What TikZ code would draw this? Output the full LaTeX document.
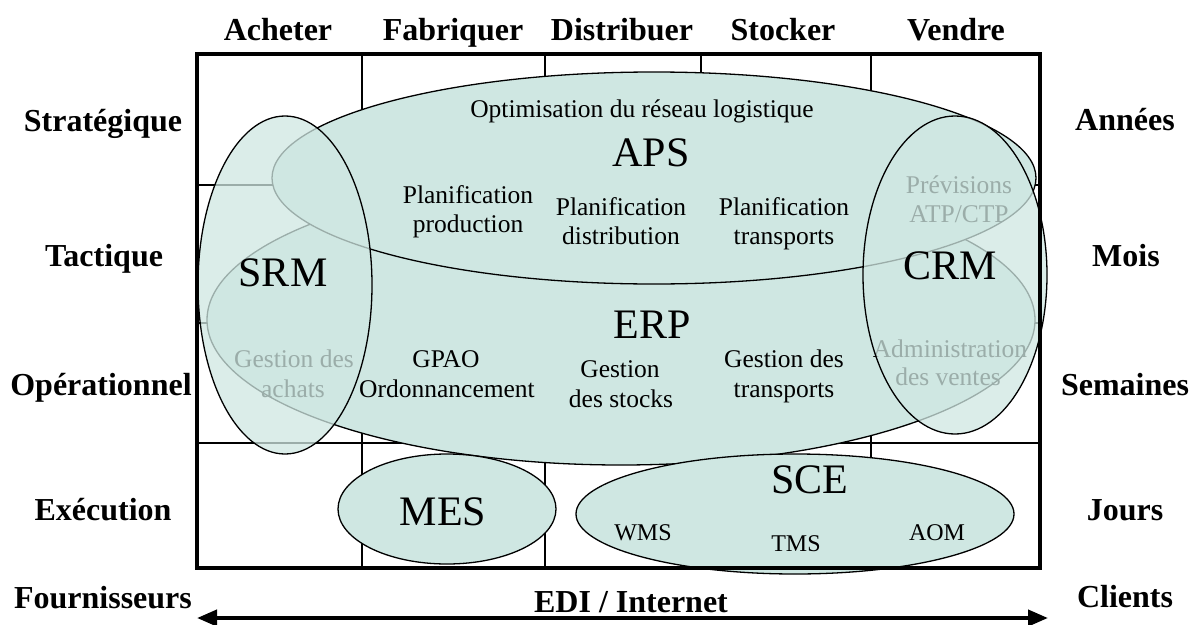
\documentclass[tikz,border=0pt]{standalone}
\usepackage{fontspec}
\setmainfont{Liberation Serif}
\usetikzlibrary{shapes.geometric,arrows.meta}
\definecolor{tealfill}{RGB}{207,231,226}
\begin{document}
\begin{tikzpicture}[x=1pt,y=-1pt,
  gridline/.style={line width=1.6pt},
  oval/.style={ellipse, draw, line width=1.3pt, fill=tealfill, inner sep=0pt},
  veil/.style={ellipse, draw, line width=1.3pt, fill=tealfill, fill opacity=0.75, inner sep=0pt},
  lbl/.style={font=\fontsize{32}{38}\selectfont\bfseries, anchor=base, inner sep=0pt},
  txt/.style={font=\fontsize{25.5}{30}\selectfont, anchor=base, inner sep=0pt},
  big/.style={font=\fontsize{42}{48}\selectfont, anchor=base, inner sep=0pt},
  sm/.style={font=\fontsize{24}{28}\selectfont, anchor=base, inner sep=0pt}]
\useasboundingbox (0,0) rectangle (1197,624);

% grid
\foreach \x in {362,545,701,871} \draw[gridline] (\x,54) -- (\x,568);
\foreach \y in {185,323,443} \draw[gridline] (197,\y) -- (1040,\y);

% opaque ellipses
\node[oval, minimum width=828pt, minimum height=290pt] (erp) at (621,320) {};
\node[oval, minimum width=764pt, minimum height=212pt] (aps) at (654,178) {};
\node[oval, minimum width=218pt, minimum height=110pt] (mes) at (447,509) {};
\node[oval, minimum width=438pt, minimum height=120pt] (sce) at (795,514) {};

% inner texts
\node[txt] (opt) at (642,117) {Optimisation du réseau logistique};
\node[big] (apsl) at (651,166) {APS};
\node[txt] (pp1) at (468,203) {Planification};
\node[txt] (pp2) at (468,232) {production};
\node[txt] (pd1) at (621,215) {Planification};
\node[txt] (pd2) at (621,244) {distribution};
\node[txt] (pt1) at (784,215) {Planification};
\node[txt] (pt2) at (784,244) {transports};
\node[txt] (pv1) at (959,193) {Prévisions};
\node[txt] (pv2) at (959,222) {ATP/CTP};
\node[big] (erpl) at (652,338) {ERP};
\node[txt] (ga1) at (294,367) {Gestion des};
\node[txt] (ga2) at (293,397) {achats};
\node[txt] (gp1) at (446,367) {GPAO};
\node[txt] (gp2) at (447,397) {Ordonnancement};
\node[txt] (gs1) at (620,377) {Gestion};
\node[txt] (gs2) at (621,407) {des stocks};
\node[txt] (gt1) at (784,367) {Gestion des};
\node[txt] (gt2) at (784,397) {transports};
\node[txt] (av1) at (950,357) {Administration};
\node[txt] (av2) at (948,385) {des ventes};
\node[big] (mesl) at (443,525) {MES};
\node[big] (scel) at (810,493) {SCE};
\node[sm] (wms) at (643,540) {WMS};
\node[sm] (tms) at (796,551) {TMS};
\node[sm] (aom) at (937,540) {AOM};

% translucent ellipses
\node[veil, minimum width=174pt, minimum height=338pt] (srm) at (285,285) {};
\node[veil, minimum width=184pt, minimum height=318pt] (crm) at (955,275) {};
\node[big] (srml) at (283,286) {SRM};
\node[big] (crml) at (950,279) {CRM};

% frame
\draw[line width=4.5pt] (197,54) rectangle (1040,568);

% column labels
\node[lbl] (c1) at (278,40) {Acheter};
\node[lbl] (c2) at (453,40) {Fabriquer};
\node[lbl] (c3) at (622,40) {Distribuer};
\node[lbl] (c4) at (783,40) {Stocker};
\node[lbl] (c5) at (956,40) {Vendre};

% row labels
\node[lbl] (r1) at (103,131) {Stratégique};
\node[lbl] (r2) at (104,266) {Tactique};
\node[lbl] (r3) at (101,395) {Opérationnel};
\node[lbl] (r4) at (103,520) {Exécution};
\node[lbl] (r5) at (103,608) {Fournisseurs};
\node[lbl] (t1) at (1125,130) {Années};
\node[lbl] (t2) at (1126,266) {Mois};
\node[lbl] (t3) at (1125,395) {Semaines};
\node[lbl] (t4) at (1125,520) {Jours};
\node[lbl] (t5) at (1125,607) {Clients};
\node[lbl] (edi) at (631,612) {EDI / Internet};

% arrow
\coordinate (al) at (197,618);
\coordinate (ar) at (1048,618);
\draw[line width=4pt, {Triangle[length=20pt,width=16pt]}-{Triangle[length=20pt,width=16pt]}] (al) -- (ar);
\end{tikzpicture}
\end{document}
